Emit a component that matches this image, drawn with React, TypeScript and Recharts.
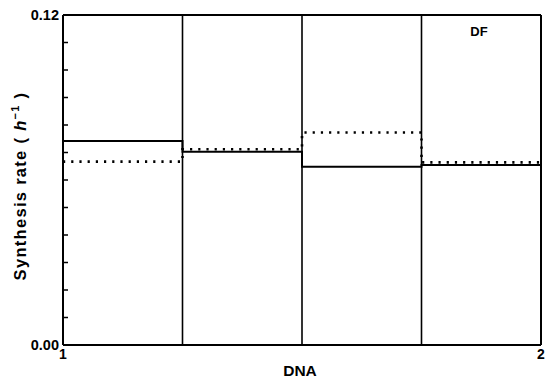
import * as React from "react"
import { LineChart, Line, XAxis, YAxis, ReferenceLine } from "recharts"

// bin edges along the DNA axis
const dnaEdges = [1, 1.25, 1.5, 1.75, 2]
// synthesis rates per bin (h^-1)
const solidRates = [0.0742, 0.0703, 0.0648, 0.0655]
const dottedRates = [0.0667, 0.0712, 0.0773, 0.0664]
const yTicks = [0, 0.01, 0.02, 0.03, 0.04, 0.05, 0.06, 0.07, 0.08, 0.09, 0.1, 0.11, 0.12]
const yLabels = [0, 0.12]
const xTicks = [1, 2]

const data = dnaEdges.map((x, i) => ({
  x,
  solid: solidRates[Math.min(i, solidRates.length - 1)],
  dotted: dottedRates[Math.min(i, dottedRates.length - 1)],
}))

const font = "'Liberation Sans', Arial, sans-serif"

function YTick(props: any) {
  const { x, y, payload } = props
  const v = payload.value
  const showLabel = yLabels.some((l) => Math.abs(l - v) < 1e-9)
  return (
    <g>
      {!showLabel && <line x1={x} x2={x + 5} y1={y} y2={y} stroke="#000" strokeWidth={1.5} />}
      {showLabel && (
        <text x={x - 4} y={y + 5} textAnchor="end" fontFamily={font} fontWeight="bold" fontSize={14.5} fill="#000">
          {v.toFixed(2)}
        </text>
      )}
    </g>
  )
}

function XTick(props: any) {
  const { x, y, payload } = props
  return (
    <text x={x} y={y + 14} textAnchor="middle" fontFamily={font} fontWeight="bold" fontSize={14} fill="#000">
      {payload.value}
    </text>
  )
}

export default function App() {
  return (
    <div style={{ position: "absolute", left: 0, top: 0, width: 547, height: 380, background: "#fff" }}>
      <LineChart width={547} height={380} data={data} margin={{ top: 15, right: 6, bottom: 5, left: 0 }}>
        <XAxis
          dataKey="x"
          type="number"
          domain={[1, 2]}
          ticks={xTicks}
          tickLine={false}
          tickSize={0}
          tickMargin={0}
          tick={<XTick />}
          axisLine={{ stroke: "#000", strokeWidth: 2 }}
          height={30}
        />
        <YAxis
          type="number"
          domain={[0, 0.12]}
          ticks={yTicks}
          interval={0}
          tickLine={false}
          tickSize={0}
          tickMargin={0}
          tick={<YTick />}
          axisLine={{ stroke: "#000", strokeWidth: 2 }}
          width={63}
        />
        <ReferenceLine y={0.12} stroke="#000" strokeWidth={2} />
        <ReferenceLine x={2} stroke="#000" strokeWidth={2} />
        {dnaEdges.slice(1, -1).map((e) => (
          <ReferenceLine key={e} x={e} stroke="#000" strokeWidth={1.6} />
        ))}
        <Line
          type="stepAfter"
          dataKey="solid"
          stroke="#000"
          strokeWidth={2}
          dot={false}
          isAnimationActive={false}
        />
        <Line
          type="stepAfter"
          dataKey="dotted"
          stroke="#000"
          strokeWidth={2.6}
          strokeDasharray="2.2 6"
          dot={false}
          isAnimationActive={false}
        />
      </LineChart>
      <div style={{ position: "absolute", left: 0, top: 0, width: 547, height: 380, pointerEvents: "none" }}>
        <svg width={547} height={380} style={{ position: "absolute", left: 0, top: 0 }}>
          <text x={479} y={36} textAnchor="middle" fontFamily={font} fontWeight="bold" fontSize={13} fill="#000">
            DF
          </text>
          <text x={300} y={376} textAnchor="middle" fontFamily={font} fontWeight="bold" fontSize={15.5} fill="#000">
            DNA
          </text>
          <text
            x={26}
            y={186}
            transform="rotate(-90 26 186)"
            textAnchor="middle"
            fontFamily={font}
            fontWeight="bold"
            fontSize={16.5}
            letterSpacing={1.3}
            fill="#000"
          >
            Synthesis rate ( <tspan fontStyle="italic">h</tspan>
            <tspan dy={-7} fontSize={11}>−1</tspan>
            <tspan dy={7}> )</tspan>
          </text>
        </svg>
      </div>
    </div>
  )
}
